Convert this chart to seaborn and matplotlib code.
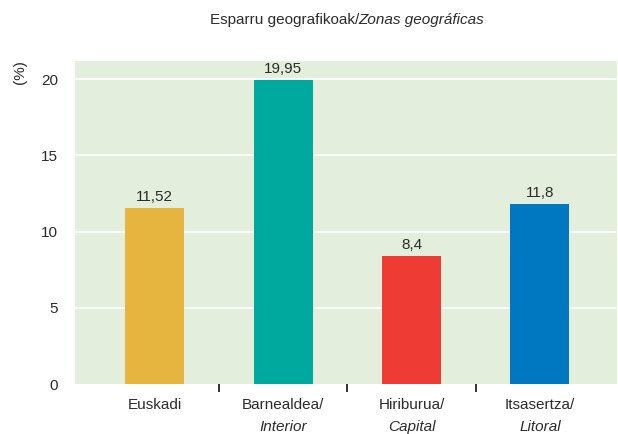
import matplotlib
matplotlib.use("Agg")
import matplotlib.pyplot as plt
import seaborn as sns
import pandas as pd
from matplotlib import font_manager

categories = ["Euskadi", "Barnealdea/", "Hiriburua/", "Itsasertza/"]
subtitles = ["", "Interior", "Capital", "Litoral"]
values = [11.52, 19.95, 8.4, 11.8]
value_labels = ["11,52", "19,95", "8,4", "11,8"]
colors = ["#E5B540", "#00A99D", "#EE3B33", "#0077C1"]
yticks = [0, 5, 10, 15, 20]

names = {f.name for f in font_manager.fontManager.ttflist}
fam = "Liberation Sans Narrow" if "Liberation Sans Narrow" in names else "Liberation Sans"

sns.set_style("white")
plt.rcParams['font.family'] = [fam, 'DejaVu Sans']
txt = "#2b2b2b"
fs = 11

df = pd.DataFrame({"cat": categories, "val": values})

fig = plt.figure(figsize=(6.18, 4.34), dpi=100)
ax = fig.add_axes([75/618, 50/434, 542/618, 323/434])
ax.set_facecolor("#E3EEDC")

sns.barplot(data=df, x="cat", y="val", hue="cat", palette=colors, legend=False,
            width=0.46, ax=ax, saturation=1, edgecolor="none", linewidth=0)

ax.set_ylim(0, 21.2)
ax.set_xlim(-0.62, 3.6)
ax.set_yticks(yticks)
ax.set_yticklabels([str(t) for t in yticks], fontsize=fs, color=txt)
for t in yticks[1:]:
    ax.axhline(t, color="white", lw=1.2, zorder=0.5)
ax.set_axisbelow(True)

for s in ax.spines.values():
    s.set_visible(False)

ax.tick_params(axis="y", length=0, pad=12)
ax.tick_params(axis="x", which="major", length=0, pad=10)
ax.set_xticks([0, 1, 2, 3])
ax.set_xticklabels(categories, fontsize=fs, color=txt)
ax.set_xticks([0.5, 1.5, 2.5], minor=True)
ax.tick_params(axis="x", which="minor", bottom=True, length=6, width=1.3,
               color="#222222", direction="out")

for i, sub in enumerate(subtitles):
    if sub:
        ax.annotate(sub, xy=(i, 0), xycoords=("data", "axes fraction"),
                    xytext=(0, -26), textcoords="offset points", ha="center", va="top",
                    fontsize=fs, style="italic", color=txt)

for p, lab in zip(ax.patches, value_labels):
    ax.annotate(lab, xy=(p.get_x() + p.get_width()/2, p.get_height()),
                xytext=(0, 3), textcoords="offset points", ha="center", va="bottom",
                fontsize=fs, color=txt)

ax.set_xlabel("")
ax.set_ylabel("")
fig.text(20/618, 1 - 72/434, "(%)", rotation=90, ha="center", va="center", fontsize=fs, color=txt)

ty = 1 - 20/434
t1 = fig.text(0, ty, "Esparru geografikoak/", ha="left", va="center", fontsize=fs, color=txt)
t2 = fig.text(0, ty, "Zonas geográficas", ha="left", va="center", fontsize=fs,
              style="italic", color=txt)
fig.canvas.draw()
r = fig.canvas.get_renderer()
w1 = t1.get_window_extent(r).width
w2 = t2.get_window_extent(r).width
x0 = 347 - (w1 + w2) / 2
t1.set_x(x0 / 618)
t2.set_x((x0 + w1) / 618)

fig.savefig("out.png", dpi=100)
